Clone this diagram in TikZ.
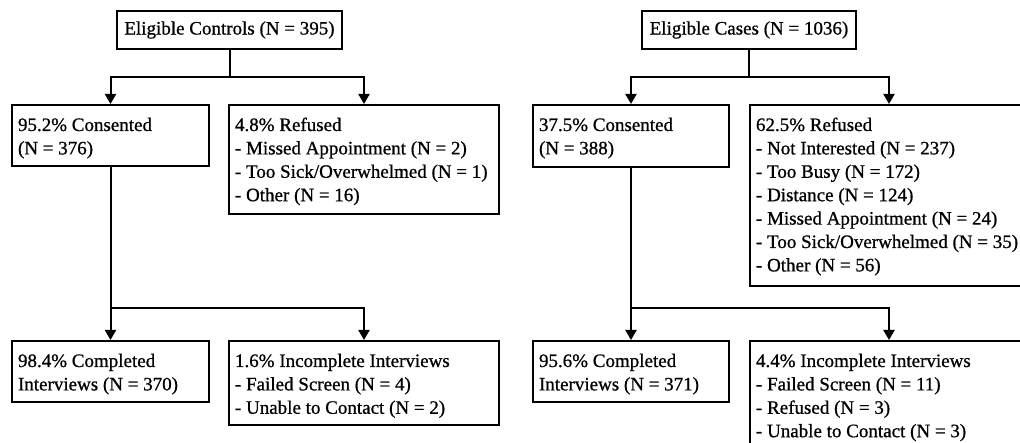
\documentclass[tikz,border=0pt]{standalone}
\usepackage{fontspec}
\setmainfont{Liberation Serif}[FakeBold=0.8]
\usetikzlibrary{arrows.meta}
\newcommand\bxt[3]{\parbox[c][#2pt][t]{#1pt}{\raggedright\rule{0pt}{26pt}#3}}
\tikzset{
  fnt/.style={font=\fontsize{19}{23.4}\selectfont},
  box/.style={draw, line width=2pt, inner xsep=6pt, inner ysep=0pt, anchor=north west, fnt},
  topbox/.style={draw, line width=2pt, inner sep=0pt, anchor=north west, fnt},
  conn/.style={line width=2pt},
  arr/.style={line width=2pt, -{Triangle[width=11pt,length=10pt]}}
}
\begin{document}
\begin{tikzpicture}[x=1pt,y=-1pt]
\fill[white] (0,0) rectangle (1020,443);
\useasboundingbox (0,0) rectangle (1020,443);
% controls
\node[topbox, minimum width=225pt, minimum height=38pt] (ctrl) at (116,10) {Eligible Controls (N = 395)};
\node[box] (con1) at (11,104) {\bxt{185}{61}{95.2\% Consented\\(N = 376)}};
\node[box] (ref1) at (228,104) {\bxt{258}{109}{4.8\% Refused\\- Missed Appointment (N = 2)\\- Too Sick/Overwhelmed (N = 1)\\- Other (N = 16)}};
\node[box] (comp1) at (11,340) {\bxt{185}{61}{98.4\% Completed\\Interviews (N = 370)}};
\node[box] (inc1) at (228,340) {\bxt{258}{84}{1.6\% Incomplete Interviews\\- Failed Screen (N = 4)\\- Unable to Contact (N = 2)}};
% cases
\node[topbox, minimum width=214pt, minimum height=38pt] (cases) at (641,10) {Eligible Cases (N = 1036)};
\node[box] (con2) at (532,104) {\bxt{184}{62}{37.5\% Consented\\(N = 388)}};
\node[box] (ref2) at (749,104) {\bxt{266}{181}{62.5\% Refused\\- Not Interested (N = 237)\\- Too Busy (N = 172)\\- Distance (N = 124)\\- Missed Appointment (N = 24)\\- Too Sick/Overwhelmed (N = 35)\\- Other (N = 56)}};
\node[box] (comp2) at (532,340) {\bxt{184}{61}{95.6\% Completed\\Interviews (N = 371)}};
\node[box] (inc2) at (749,340) {\bxt{266}{112}{4.4\% Incomplete Interviews\\- Failed Screen (N = 11)\\- Refused (N = 3)\\- Unable to Contact (N = 3)}};
% connectors controls
\coordinate (j1) at (ctrl.south |- 0,77);
\draw[conn] (ctrl.south) -- (j1);
\draw[arr] (j1) -| (con1.north);
\draw[arr] (j1) -| (ref1.north);
\coordinate (j2) at (con1.south |- 0,308);
\draw[arr] (con1.south) -- (comp1.north);
\draw[arr] (j2) -| (inc1.north);
% connectors cases
\coordinate (j3) at (cases.south |- 0,77);
\draw[conn] (cases.south) -- (j3);
\draw[arr] (j3) -| (con2.north);
\draw[arr] (j3) -| (ref2.north);
\coordinate (j4) at (con2.south |- 0,308);
\draw[arr] (con2.south) -- (comp2.north);
\draw[arr] (j4) -| (inc2.north);
\end{tikzpicture}
\end{document}
